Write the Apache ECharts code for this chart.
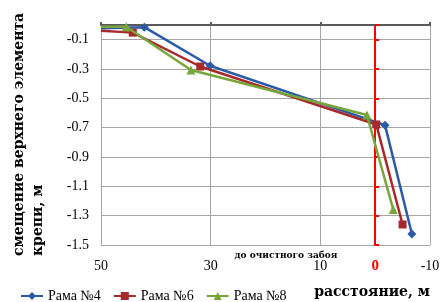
<!DOCTYPE html>
<html>
<head>
<meta charset="utf-8">
<script src="https://cdn.jsdelivr.net/npm/echarts@6.0.0/dist/echarts.min.js"></script>
<style>
    html, body { margin: 0; padding: 0; background: #fff; }
    #chart { width: 443px; height: 302px; }
</style>
</head>
<body>
<div id="chart"></div>
<script>
// distances to the face (m) and roof displacement (m)
var names = ['Рама №4', 'Рама №6', 'Рама №8'];
var dist4 = [50, 42.1, 30.1, -1.8, -6.7];
var disp4 = [-0.022, -0.015, -0.278, -0.683, -1.425];
var dist6 = [50, 44.2, 31.9, -0.2, -5.0];
var disp6 = [-0.04, -0.052, -0.283, -0.678, -1.36];
var dist8 = [50, 45.4, 33.6, 1.5, -3.3];
var disp8 = [-0.012, -0.012, -0.307, -0.614, -1.258];
var xLabels = [50, 30, 10, 0, -10];
var yLabels = [-1.5, -1.3, -1.1, -0.9, -0.7, -0.5, -0.3, -0.1];

var colors = ['#2b5aa8', '#a8292b', '#77a63a'];
var symbols = ['diamond', 'rect', 'triangle'];
var sizes = [9, 8, 9];

function pts(xs, ys) {
    var out = [];
    for (var i = 0; i < xs.length; i++) {
        if (i == 0)
            out.push({value: [xs[i], ys[i]], symbol: 'none'});
        else
            out.push([xs[i], ys[i]]);
    }
    return out;
}

var serif = '"Liberation Serif", "Times New Roman", serif';
var wide = '"DejaVu Serif", serif';

var chart = echarts.init(document.getElementById('chart'));
var allData = [pts(dist4, disp4), pts(dist6, disp6), pts(dist8, disp8)];
var series = [];
for (var k = 0; k < 3; k++) {
    series.push({
        name: names[k],
        type: 'line',
        data: allData[k],
        xAxisIndex: 0,
        yAxisIndex: 0,
        symbol: symbols[k],
        symbolSize: sizes[k],
        color: colors[k],
        lineStyle: { width: 2.5, color: colors[k] },
        itemStyle: { color: colors[k] },
        z: 3 + k
    });
}

var opt = {
    animation: false,
    grid: { left: 101, right: 13, top: 25, bottom: 57 },
    legend: {
        data: names,
        top: 284,
        left: 15,
        itemWidth: 22,
        itemHeight: 10,
        itemGap: 12,
        textStyle: { fontFamily: serif, fontSize: 14, color: '#000' }
    },
    xAxis: [{
        type: 'value',
        inverse: true,
        min: -10,
        max: 50,
        interval: 20,
        position: 'bottom',
        axisLine: { show: false, onZero: false },
        axisTick: { show: false },
        splitLine: { lineStyle: { color: '#a6a6a6', width: 1 } },
        axisLabel: {
            customValues: xLabels,
            margin: 14,
            fontFamily: serif,
            fontSize: 14,
            color: '#000',
            formatter: function (v) {
                return v == 0 ? '{z|0}' : String(v);
            },
            rich: {
                z: { color: '#ff0000', fontWeight: 'bold', fontSize: 15, fontFamily: serif }
            }
        }
    }, {
        type: 'value',
        inverse: true,
        min: -10,
        max: 50,
        interval: 20,
        position: 'top',
        axisLine: { show: true, onZero: false, lineStyle: { color: '#5a5a5a', width: 2 } },
        axisTick: { show: true, length: 3, lineStyle: { color: '#5a5a5a', width: 2 } },
        axisLabel: { show: false },
        splitLine: { show: false }
    }],
    yAxis: [{
        type: 'value',
        min: -1.5,
        max: 0,
        interval: 0.2,
        axisLine: { show: false, onZero: false },
        axisTick: { show: false },
        splitLine: { lineStyle: { color: '#a6a6a6', width: 1 } },
        axisLabel: {
            customValues: yLabels,
            margin: 12,
            fontFamily: serif,
            fontSize: 14,
            color: '#000'
        }
    }, {
        // red vertical axis crossing at x = 0
        type: 'value',
        min: -1.5,
        max: 0,
        interval: 0.2,
        position: 'left',
        axisLine: { show: true, onZero: true, lineStyle: { color: '#ff0000', width: 2 } },
        axisTick: { show: true, inside: true, length: 4, lineStyle: { color: '#ff0000', width: 2 } },
        axisLabel: { show: false },
        splitLine: { show: false }
    }],
    graphic: [{
        type: 'text',
        x: 10,
        y: 256,
        rotation: Math.PI / 2,
        style: {
            text: 'смещение верхнего элемента\nкрепи, м',
            font: 'bold 14px ' + wide,
            fill: '#000',
            align: 'left',
            verticalAlign: 'top',
            lineHeight: 19
        }
    }, {
        type: 'text',
        x: 286,
        y: 256,
        style: {
            text: 'до очистного забоя',
            font: 'bold 9px ' + wide,
            fill: '#000',
            align: 'center',
            verticalAlign: 'middle'
        }
    }, {
        type: 'text',
        x: 372,
        y: 292,
        style: {
            text: 'расстояние, м',
            font: 'bold 14px ' + wide,
            fill: '#000',
            align: 'center',
            verticalAlign: 'middle'
        }
    }],
    series: series
};

chart.setOption(opt);
</script>
</body>
</html>
